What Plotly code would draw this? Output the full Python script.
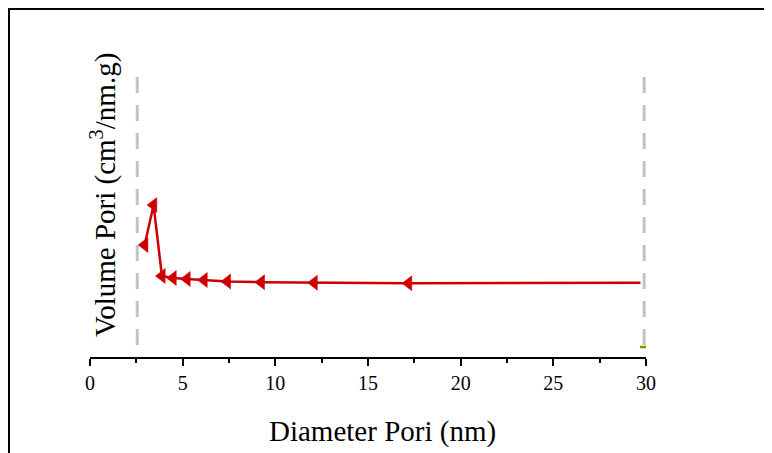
import plotly.graph_objects as go

# Data
diameter = [2.95, 3.43, 3.88, 4.48, 5.23, 6.15, 7.41, 9.24, 12.09, 17.19, 29.7]
volume = [0.112, 0.152, 0.081, 0.079, 0.078, 0.077, 0.0755, 0.0748, 0.0743, 0.0737, 0.0743]
marker_sizes = [13, 13, 13, 13, 13, 13, 13, 13, 13, 13, 0]

bound_left_x = [2.55, 2.55]
bound_right_x = [29.9, 29.9]
bound_y = [0.012, 0.282]

olive_x = [29.9]
olive_y = [0.010]

x_ticks = [0, 5, 10, 15, 20, 25, 30]

L, T, W, H = 82, 62, 556, 287

fig = go.Figure()

for bx in (bound_left_x, bound_right_x):
    fig.add_trace(go.Scatter(
        x=bx, y=bound_y, mode="lines",
        line=dict(color="#c3c3c3", width=3, dash="16px,12px"),
        showlegend=False, hoverinfo="skip"))

fig.add_trace(go.Scatter(
    x=olive_x, y=olive_y, mode="markers",
    marker=dict(symbol="line-ew", size=6, line=dict(color="#8c8c00", width=2.5)),
    showlegend=False))

fig.add_trace(go.Scatter(
    x=diameter, y=volume, mode="lines+markers",
    line=dict(color="#cc0000", width=2.5),
    marker=dict(symbol="triangle-left", size=marker_sizes, color="#cc0000",
                opacity=1, line=dict(width=0.5, color="#cc0000")),
    showlegend=False))

fig.update_layout(
    width=772, height=453,
    margin=dict(l=L, r=772 - L - W, t=T, b=453 - T - H),
    paper_bgcolor="white", plot_bgcolor="white",
    font=dict(family="Liberation Serif", color="black"),
    xaxis=dict(
        range=[0, 30], tickvals=x_ticks, ticktext=[str(t) for t in x_ticks],
        showgrid=False, zeroline=False,
        showline=True, linecolor="black", linewidth=1.5,
        ticks="outside", ticklen=7, tickwidth=1.5, tickcolor="black",
        minor=dict(dtick=2.5, ticks="outside", ticklen=4, tickwidth=1.5, tickcolor="black"),
        tickfont=dict(size=20, family="Liberation Serif"),
    ),
    yaxis=dict(
        range=[0, 0.287], showgrid=False, zeroline=False, showline=False,
        showticklabels=False, ticks="",
    ),
    shapes=[dict(type="rect", xref="paper", yref="paper",
                 x0=(1 - L) / W, x1=1.5, y0=-1.0, y1=1 + (T - 1) / H,
                 line=dict(color="black", width=2), fillcolor="rgba(0,0,0,0)",
                 layer="below")],
    annotations=[
        dict(text="Volume Pori (cm<sup>3</sup>/nm.g)", textangle=-90,
             xref="paper", yref="paper", x=13 / W, y=162 / H,
             showarrow=False, font=dict(size=29, family="Liberation Serif"),
             xanchor="center", yanchor="middle"),
        dict(text="Diameter Pori (nm)",
             xref="paper", yref="paper", x=292 / W, y=-74 / H,
             showarrow=False, font=dict(size=29, family="Liberation Serif"),
             xanchor="center", yanchor="middle"),
    ],
)

fig.write_html("out.html")
